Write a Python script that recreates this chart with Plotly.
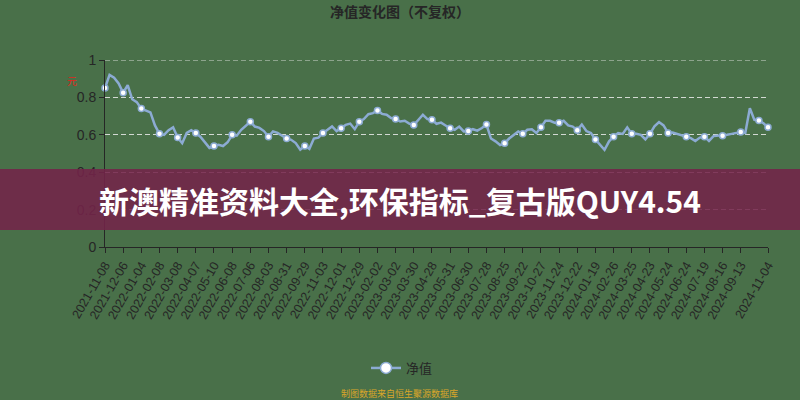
import plotly.graph_objects as go

# ---- data ----
tick_labels = [
    "2021-11-08", "2021-12-06", "2022-01-04", "2022-02-08", "2022-03-08", "2022-04-07",
    "2022-05-10", "2022-06-08", "2022-07-06", "2022-08-03", "2022-08-31", "2022-09-29",
    "2022-11-03", "2022-12-01", "2022-12-29", "2023-02-02", "2023-03-02", "2023-03-30",
    "2023-04-28", "2023-05-31", "2023-06-30", "2023-07-28", "2023-08-25", "2023-09-22",
    "2023-10-27", "2023-11-24", "2023-12-22", "2024-01-19", "2024-02-26", "2024-03-25",
    "2024-04-23", "2024-05-24", "2024-06-24", "2024-07-19", "2024-08-16", "2024-09-13",
    "2024-11-04",
]

dates = [
    "2021-11-08", "2021-11-15", "2021-11-22", "2021-11-29",
    "2021-12-06", "2021-12-13", "2021-12-20", "2021-12-27",
    "2022-01-04", "2022-01-11", "2022-01-18", "2022-01-25",
    "2022-02-08", "2022-02-15", "2022-02-22", "2022-03-01",
    "2022-03-08", "2022-03-15", "2022-03-22", "2022-03-29",
    "2022-04-07", "2022-04-14", "2022-04-21", "2022-04-28",
    "2022-05-10", "2022-05-17", "2022-05-24", "2022-05-31",
    "2022-06-08", "2022-06-15", "2022-06-22", "2022-06-29",
    "2022-07-06", "2022-07-13", "2022-07-20", "2022-07-27",
    "2022-08-03", "2022-08-10", "2022-08-17", "2022-08-24",
    "2022-08-31", "2022-09-07", "2022-09-15", "2022-09-22",
    "2022-09-29", "2022-10-13", "2022-10-20", "2022-10-27",
    "2022-11-03", "2022-11-10", "2022-11-17", "2022-11-24",
    "2022-12-01", "2022-12-08", "2022-12-15", "2022-12-22",
    "2022-12-29", "2023-01-06", "2023-01-13", "2023-01-20",
    "2023-02-02", "2023-02-09", "2023-02-16", "2023-02-23",
    "2023-03-02", "2023-03-09", "2023-03-16", "2023-03-23",
    "2023-03-30", "2023-04-07", "2023-04-14", "2023-04-21",
    "2023-04-28", "2023-05-10", "2023-05-17", "2023-05-24",
    "2023-05-31", "2023-06-07", "2023-06-14", "2023-06-21",
    "2023-06-30", "2023-07-07", "2023-07-14", "2023-07-21",
    "2023-07-28", "2023-08-04", "2023-08-11", "2023-08-18",
    "2023-08-25", "2023-09-01", "2023-09-08", "2023-09-15",
    "2023-09-22", "2023-10-09", "2023-10-13", "2023-10-20",
    "2023-10-27", "2023-11-03", "2023-11-10", "2023-11-17",
    "2023-11-24", "2023-12-01", "2023-12-08", "2023-12-15",
    "2023-12-22", "2023-12-29", "2024-01-05", "2024-01-12",
    "2024-01-19", "2024-01-26", "2024-02-02", "2024-02-19",
    "2024-02-26", "2024-03-04", "2024-03-11", "2024-03-18",
    "2024-03-25", "2024-04-01", "2024-04-09", "2024-04-16",
    "2024-04-23", "2024-04-30", "2024-05-10", "2024-05-17",
    "2024-05-24", "2024-05-31", "2024-06-07", "2024-06-17",
    "2024-06-24", "2024-07-01", "2024-07-08", "2024-07-12",
    "2024-07-19", "2024-07-26", "2024-08-02", "2024-08-09",
    "2024-08-16", "2024-08-23", "2024-08-30", "2024-09-06",
    "2024-09-13", "2024-09-24", "2024-10-08", "2024-10-15",
    "2024-10-22", "2024-10-29", "2024-11-04",
]

nav = [
    0.850, 0.920, 0.905, 0.875,
    0.825, 0.865, 0.790, 0.775,
    0.740, 0.730, 0.720, 0.650,
    0.605, 0.600, 0.625, 0.640,
    0.585, 0.555, 0.610, 0.625,
    0.610, 0.590, 0.557, 0.530,
    0.540, 0.547, 0.540, 0.560,
    0.600, 0.595, 0.627, 0.650,
    0.670, 0.644, 0.637, 0.620,
    0.590, 0.618, 0.610, 0.595,
    0.580, 0.573, 0.556, 0.520,
    0.540, 0.525, 0.580, 0.585,
    0.610, 0.627, 0.645, 0.620,
    0.635, 0.653, 0.660, 0.630,
    0.670, 0.684, 0.710, 0.716,
    0.730, 0.712, 0.707, 0.690,
    0.685, 0.671, 0.675, 0.660,
    0.652, 0.680, 0.707, 0.684,
    0.680, 0.659, 0.665, 0.650,
    0.635, 0.627, 0.644, 0.618,
    0.620, 0.630, 0.622, 0.636,
    0.655, 0.580, 0.565, 0.545,
    0.555, 0.580, 0.600, 0.618,
    0.605, 0.627, 0.630, 0.610,
    0.640, 0.675, 0.675, 0.665,
    0.665, 0.675, 0.650, 0.644,
    0.625, 0.655, 0.620, 0.609,
    0.575, 0.547, 0.520, 0.565,
    0.590, 0.609, 0.605, 0.640,
    0.605, 0.605, 0.600, 0.575,
    0.605, 0.645, 0.668, 0.650,
    0.610, 0.612, 0.605, 0.598,
    0.590, 0.582, 0.567, 0.585,
    0.590, 0.567, 0.593, 0.595,
    0.595, 0.600, 0.605, 0.610,
    0.615, 0.610, 0.742, 0.680,
    0.676, 0.662, 0.640,
]

y_ticks = [0, 0.2, 0.4, 0.6, 0.8, 1]
y_tick_text = ["0", "0.2", "0.4", "0.6", "0.8", "1"]

series_name = "净值"
title_text = "净值变化图（不复权）"
banner_text = "新澳精准资料大全,环保指标_复古版QUY4.54"
source_text = "制图数据来自恒生聚源数据库"
unit_text = "元"

# ---- styling ----
BG = "rgb(73,112,73)"
LINE = "#8cabd3"
DARK = "#262626"
GRID = "rgba(235,235,235,0.85)"
CJK = "Noto Sans CJK SC, sans-serif"
LAT = "Liberation Sans, Arial, sans-serif"

n = len(dates)
mark_idx = [i for i in range(n) if i % 4 == 0 or i == n - 1]

fig = go.Figure()
fig.add_trace(go.Scatter(
    x=dates, y=nav, mode="lines",
    line=dict(color=LINE, width=2.5, shape="linear"),
    showlegend=False, hoverinfo="skip", cliponaxis=False,
))
fig.add_trace(go.Scatter(
    x=[dates[i] for i in mark_idx], y=[nav[i] for i in mark_idx], mode="markers",
    marker=dict(color="white", size=6, line=dict(color=LINE, width=1.5)),
    showlegend=False, cliponaxis=False,
))
fig.add_trace(go.Scatter(
    x=[None], y=[None], mode="lines+markers", name=series_name,
    line=dict(color=LINE, width=2.5),
    marker=dict(color="white", size=11, line=dict(color=LINE, width=1.5)),
))

L, R, T, B = 105, 32, 60, 153
W, H = 800, 400
pw, ph = W - L - R, H - T - B

def px_x(x):
    return (x - L) / pw

def px_y(y):
    return (H - B - y) / ph

fig.update_layout(
    width=W, height=H,
    margin=dict(l=L, r=R, t=T, b=B),
    paper_bgcolor=BG, plot_bgcolor=BG,
    title=dict(text="<b>" + title_text + "</b>", x=0.5, xanchor="center",
               y=1 - 12 / H, yanchor="middle",
               font=dict(family=CJK, size=14, color=DARK)),
    xaxis=dict(
        type="category", categoryorder="array", categoryarray=dates,
        range=[0, n - 1], automargin=False,
        tickmode="array", tickvals=tick_labels, ticktext=tick_labels,
        tickangle=-60, tickfont=dict(family=LAT, size=12.5, color=DARK),
        showgrid=False, zeroline=False,
        showline=True, linecolor=DARK, linewidth=1,
        ticks="outside", ticklen=5, tickcolor=DARK,
    ),
    yaxis=dict(
        range=[0, 1], automargin=False,
        tickmode="array", tickvals=y_ticks, ticktext=y_tick_text,
        tickfont=dict(family=LAT, size=14, color=DARK),
        showgrid=True, gridcolor=GRID, griddash="5px,3px", gridwidth=1,
        zeroline=False,
        showline=True, linecolor=DARK, linewidth=1,
        ticks="outside", ticklen=5, tickcolor=DARK,
    ),
    legend=dict(orientation="h", x=px_x(402), xanchor="center",
                y=px_y(368), yanchor="middle",
                font=dict(family=CJK, size=13, color=DARK),
                bgcolor="rgba(0,0,0,0)"),
    showlegend=True,
)

# top grid line at y = 1 (Plotly hides the grid line on the plot edge)
fig.add_shape(type="line", xref="paper", yref="y", x0=0, x1=1, y0=y_ticks[-1], y1=y_ticks[-1],
              line=dict(color=GRID, width=1, dash="5px,3px"), layer="below")

fig.add_shape(type="rect", xref="paper", yref="paper",
              x0=px_x(-5), x1=px_x(805), y0=px_y(230), y1=px_y(169),
              fillcolor="rgba(116,36,74,0.87)", line=dict(width=0), layer="above")

fig.add_annotation(xref="paper", yref="paper", x=px_x(400), y=px_y(200),
                   text="<b>" + banner_text + "</b>", showarrow=False,
                   xanchor="center", yanchor="middle",
                   font=dict(family=CJK, size=30, color="white"))

fig.add_annotation(xref="paper", yref="paper", x=px_x(399), y=px_y(393),
                   text=source_text, showarrow=False,
                   xanchor="center", yanchor="middle",
                   font=dict(family=CJK, size=9, color="#d9a62a"))

fig.add_annotation(xref="paper", yref="paper", x=px_x(72), y=px_y(80),
                   text=unit_text, showarrow=False,
                   xanchor="center", yanchor="middle",
                   font=dict(family=CJK, size=10, color="#e0281e"))

fig.write_html(
    "out.html",
    config={"displayModeBar": False},
    post_script="document.body.style.margin='0';document.body.style.overflow='hidden';",
)
